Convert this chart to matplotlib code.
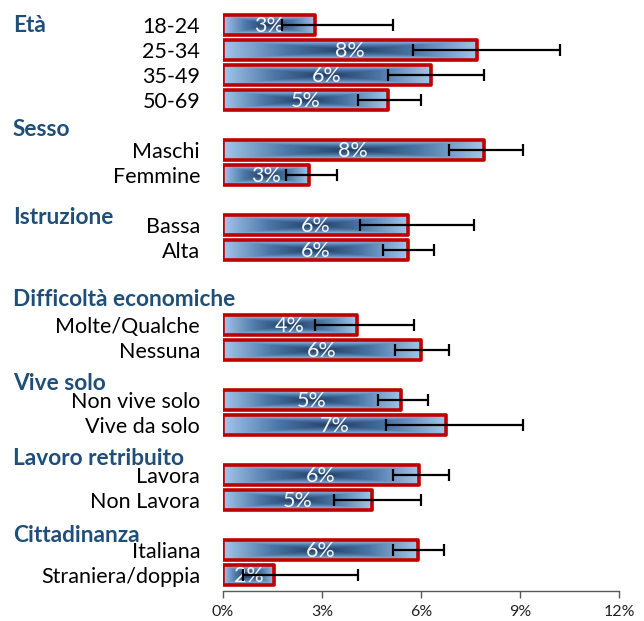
import numpy as np
import matplotlib
matplotlib.use('Agg')
import matplotlib.pyplot as plt
from matplotlib.colors import LinearSegmentedColormap
from matplotlib import transforms

# data (percent)
groups = ['Età', 'Sesso', 'Istruzione', 'Difficoltà economiche',
          'Vive solo', 'Lavoro retribuito', 'Cittadinanza']
categories = ['18-24', '25-34', '35-49', '50-69',
              'Maschi', 'Femmine',
              'Bassa', 'Alta',
              'Molte/Qualche', 'Nessuna',
              'Non vive solo', 'Vive da solo',
              'Lavora', 'Non Lavora',
              'Italiana', 'Straniera/doppia']
values = [2.8, 7.7, 6.3, 5.0,
          7.9, 2.6,
          5.6, 5.6,
          4.05, 6.0,
          5.4, 6.75,
          5.95, 4.5,
          5.9, 1.55]
ci_low = [1.8, 5.75, 5.0, 4.1,
          6.85, 1.9,
          4.15, 4.85,
          2.8, 5.2,
          4.7, 4.95,
          5.15, 3.35,
          5.15, 0.6]
ci_high = [5.15, 10.2, 7.9, 6.0,
           9.1, 3.45,
           7.6, 6.4,
           5.8, 6.85,
           6.2, 9.1,
           6.85, 6.0,
           6.7, 4.1]
bar_labels = ['3%', '8%', '6%', '5%', '8%', '3%', '6%', '6%',
              '4%', '6%', '5%', '7%', '6%', '5%', '6%', '2%']

# layout: row of each category and of each group title
rows = [0, 1, 2, 3, 5, 6, 8, 9, 12, 13, 15, 16, 18, 19, 21, 22]
header_rows = [0.0, 4.2, 7.7, 10.96, 14.36, 17.34, 20.4]

plt.rcParams['font.family'] = ['Lato', 'DejaVu Sans']

fig = plt.figure(figsize=(6.44, 6.21), dpi=100)
ax = fig.add_axes([223 / 644, 30 / 621, 396 / 644, 1 - 30 / 621 - 12.5 / 621])

# gradient fill: light at the edges, dark towards the centre (rectangular path)
cmap = LinearSegmentedColormap.from_list('bar', ['#1F3C60', '#4A76A6', '#A3C6EA'])
ny, nx = 24, 300
yy, xx = np.mgrid[-1:1:ny * 1j, -1:1:nx * 1j]
grad = np.maximum(np.abs(xx), np.abs(yy))
h = 0.8
for r, v in zip(rows, values):
    ax.imshow(grad, cmap=cmap, vmin=0, vmax=1, aspect='auto',
              extent=(0, v, r + h / 2, r - h / 2), zorder=1, interpolation='bilinear')

ax.barh(rows, values, height=h, fill=False, edgecolor='#C00000', linewidth=2.6,
        joinstyle='round', zorder=2)

for r, v, lab in zip(rows, values, bar_labels):
    ax.text(v / 2, r + 0.05, lab, ha='center', va='center', color='#F5F5F5',
            fontsize=15.5, zorder=3)

xerr = [np.array(values) - np.array(ci_low), np.array(ci_high) - np.array(values)]
ax.errorbar(values, rows, xerr=xerr, fmt='none', ecolor='black', elinewidth=1.6,
            capsize=4.3, capthick=1.6, zorder=4)

ax.set_xlim(0, 12)
ax.set_ylim(22.64, -0.5)
ax.set_xticks([0, 3, 6, 9, 12], ['0%', '3%', '6%', '9%', '12%'])
ax.tick_params(axis='x', direction='out', length=5, width=1, color='#595959',
               labelsize=11.5, labelcolor='#222222', pad=5)
ax.set_yticks(rows, categories)
ax.tick_params(axis='y', length=0, labelsize=15.5, pad=16.5)
for side in ['left', 'right', 'top']:
    ax.spines[side].set_visible(False)
ax.spines['bottom'].set_color('#595959')
ax.spines['bottom'].set_linewidth(1)

trans = transforms.blended_transform_factory(fig.transFigure, ax.transData)
for g, hr in zip(groups, header_rows):
    ax.text(13 / 644, hr, g, transform=trans, ha='left', va='center',
            fontsize=16.3, fontweight='bold', color='#1F4E79', clip_on=False)

fig.savefig('out.png', dpi=100)
